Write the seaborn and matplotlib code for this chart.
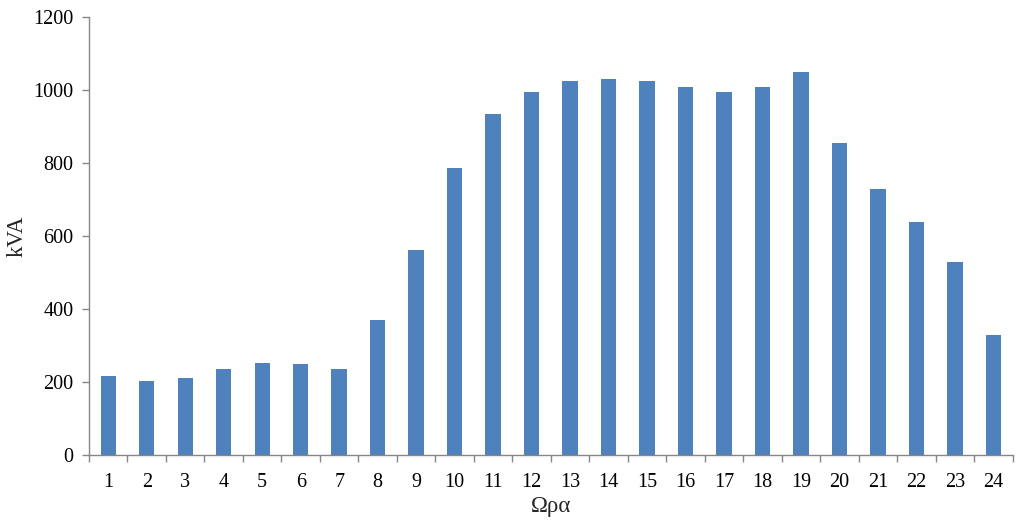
import matplotlib
matplotlib.use("Agg")
import matplotlib.pyplot as plt
import matplotlib.ticker
import seaborn as sns
import pandas as pd
import numpy as np

hours = [str(h) for h in range(1, 25)]
kva = [216, 203, 210, 236, 252, 249, 236, 370, 562, 786, 934, 994,
       1024, 1030, 1024, 1007, 994, 1007, 1049, 854, 728, 638, 528, 328]

df = pd.DataFrame({"hour": hours, "kva": kva})

sns.set_theme(style="white")
plt.rcParams['font.family'] = ['Liberation Serif', 'DejaVu Serif']

fig = plt.figure(figsize=(10.23, 5.30), dpi=100)
ax = fig.add_axes([0.087, 0.1415, 0.903, 0.8265])

sns.barplot(data=df, x="hour", y="kva", color="#4F81BD", saturation=1,
            width=0.4, linewidth=0, ax=ax)

grey = "#868686"
ax.set_ylim(0, 1200)
ax.set_xlim(-0.5, len(hours) - 0.5)
ax.yaxis.set_major_locator(matplotlib.ticker.MultipleLocator(200))
ax.set_xticks(np.arange(-0.5, len(hours), 1), minor=True)
ax.tick_params(axis="x", which="major", length=0, labelsize=14.5, pad=13, colors="black")
ax.tick_params(axis="x", which="minor", length=5, width=1, color=grey, direction="out", bottom=True)
ax.tick_params(axis="y", length=5, width=1, color=grey, direction="out", left=True,
               labelsize=14.5, pad=6, labelcolor="black")

sns.despine(ax=ax)
for side in ("left", "bottom"):
    ax.spines[side].set_color(grey)
    ax.spines[side].set_linewidth(1)

ax.set_xlabel("Ωρα", fontsize=16.5, labelpad=3)
ax.set_ylabel("kVA", fontsize=16.5, labelpad=4)

plt.savefig("out.png", dpi=100)
